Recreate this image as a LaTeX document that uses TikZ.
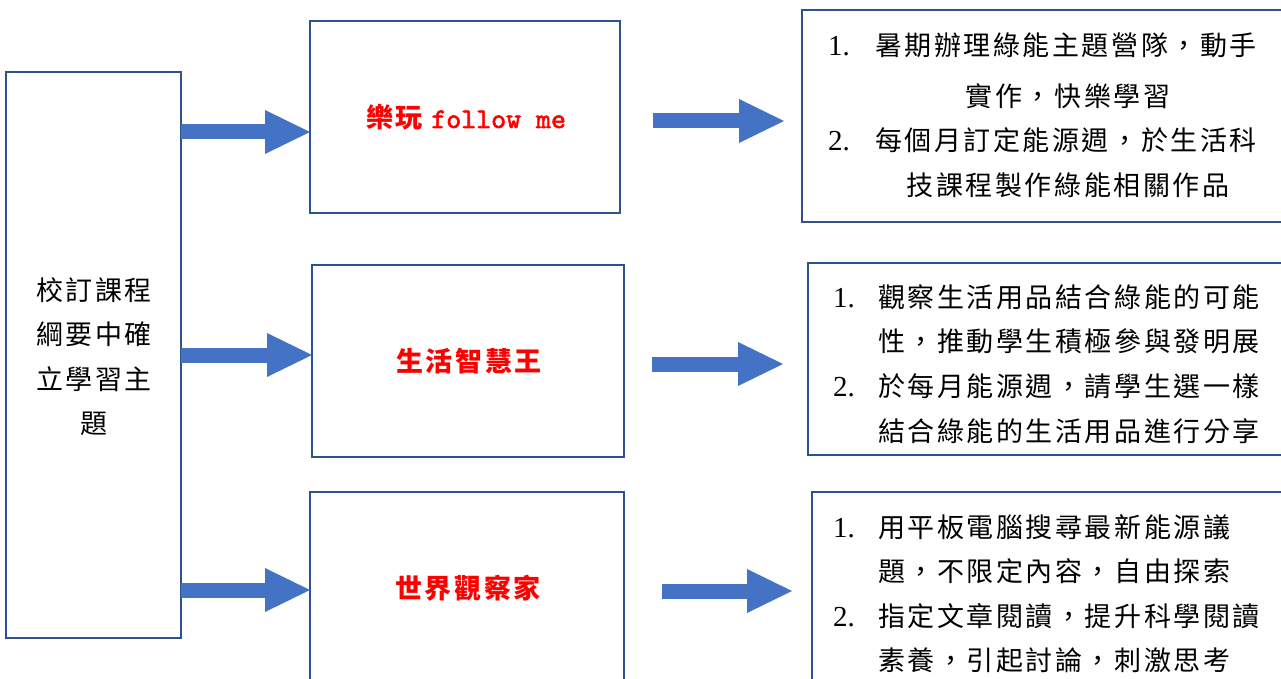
\documentclass[tikz,border=0pt]{standalone}
\usepackage{fontspec}
\usetikzlibrary{arrows.meta}
\newfontfamily\cjk[LetterSpace=9.5]{Noto Sans CJK TC}
\newfontfamily\lat{Liberation Serif}
\newfontfamily\mono[FakeBold=2]{lmmono10-regular.otf}
\definecolor{boxblue}{HTML}{2F528F}
\definecolor{arrowblue}{HTML}{4472C4}
\definecolor{titlered}{HTML}{FF0000}
\begin{document}
\begin{tikzpicture}[x=1pt,y=-1pt,
 box/.style={draw=boxblue, line width=2.2pt, fill=white, rectangle, inner sep=0pt, outer sep=0pt},
 blockarrow/.style={draw=arrowblue, line width=15pt, line cap=butt, -{Triangle[length=45pt,width=44pt,line width=0pt,fill=arrowblue]}},
 txt/.style={inner sep=0pt, outer sep=0pt, font=\cjk\fontsize{27}{27}\selectfont, anchor=base west},
 ctxt/.style={txt, anchor=base},
 num/.style={inner sep=0pt, outer sep=0pt, font=\lat\fontsize{29}{29}\selectfont, anchor=base west},
 title/.style={inner sep=0pt, outer sep=0pt, font=\cjk\bfseries\fontsize{27}{27}\selectfont, text=titlered, anchor=base}]
\useasboundingbox (0,0) rectangle (1281,679);
\clip (0,0) rectangle (1281,679);
\fill[white] (0,0) rectangle (1281,679);

% boxes
\node[box, minimum width=175pt, minimum height=566pt] (L) at (93.5,355) {};
\node[box, minimum width=310pt, minimum height=192pt] (A) at (465,117) {};
\node[box, minimum width=312pt, minimum height=192pt] (B) at (468,361) {};
\node[box, minimum width=314pt, minimum height=192pt] (C) at (467,588) {};
\node[box, minimum width=490pt, minimum height=212pt] (AR) at (1047,116) {};
\node[box, minimum width=484pt, minimum height=192pt] (BR) at (1050,359) {};
\node[box, minimum width=480pt, minimum height=212pt] (CR) at (1052,598) {};

% arrows
\draw[blockarrow] (L.east |- 0,132) -- (A.west |- 0,132);
\draw[blockarrow] (L.east |- 0,355) -- (B.west |- 0,355);
\draw[blockarrow] (L.east |- 0,590) -- (C.west |- 0,590);
\coordinate (a2s) at (653,121); \coordinate (a2e) at (784,121);
\coordinate (b2s) at (652,364); \coordinate (b2e) at (783,364);
\coordinate (c2s) at (662,591); \coordinate (c2e) at (792,591);
\draw[blockarrow] (a2s) -- (a2e);
\draw[blockarrow] (b2s) -- (b2e);
\draw[blockarrow] (c2s) -- (c2e);

% left box text
\node[ctxt] (l1) at (94,300) {校訂課程};
\node[ctxt] (l2) at (94,344) {綱要中確};
\node[ctxt] (l3) at (94,389) {立學習主};
\node[ctxt] (l4) at (94,433) {題};

% titles
\node[title] (ta) at (466,128) {樂玩 {\mono\fontsize{28.5}{28.5}\selectfont follow me}};
\node[title] (tb) at (469,371) {生活智慧王};
\node[title] (tc) at (468,598) {世界觀察家};

% right box A
\node[num] (ar1n) at (828,56) {1.};
\node[txt] (ar1) at (875,56) {暑期辦理綠能主題營隊，動手};
\node[ctxt] (ar2) at (1068,107) {實作，快樂學習};
\node[num] (ar3n) at (828,151) {2.};
\node[txt] (ar3) at (875,151) {每個月訂定能源週，於生活科};
\node[ctxt] (ar4) at (1068,196) {技課程製作綠能相關作品};

% right box B
\node[num] (br1n) at (833,307) {1.};
\node[txt] (br1) at (878,307) {觀察生活用品結合綠能的可能};
\node[txt] (br2) at (878,351) {性，推動學生積極參與發明展};
\node[num] (br3n) at (833,396) {2.};
\node[txt] (br3) at (878,396) {於每月能源週，請學生選一樣};
\node[txt] (br4) at (878,441) {結合綠能的生活用品進行分享};

% right box C
\node[num] (cr1n) at (833,537) {1.};
\node[txt] (cr1) at (878,537) {用平板電腦搜尋最新能源議};
\node[txt] (cr2) at (878,581) {題，不限定內容，自由探索};
\node[num] (cr3n) at (833,626) {2.};
\node[txt] (cr3) at (878,626) {指定文章閱讀，提升科學閱讀};
\node[txt] (cr4) at (878,670) {素養，引起討論，刺激思考};
\end{tikzpicture}
\end{document}
